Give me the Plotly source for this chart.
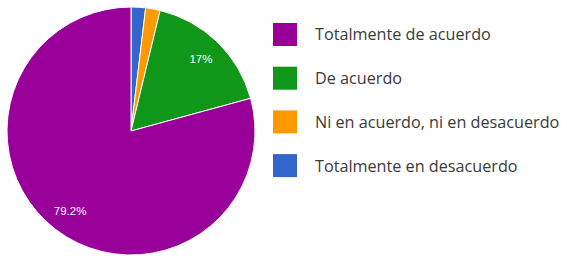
import plotly.graph_objects as go

labels = ["Totalmente de acuerdo", "De acuerdo", "Ni en acuerdo, ni en desacuerdo", "Totalmente en desacuerdo"]
counts = [42, 9, 1, 1]
pct_text = ["79.2%", "17%", "", ""]
colors = ["#990099", "#109618", "#ff9900", "#3366cc"]

W, H = 567, 267
cx, cy, r = 131, 131, 124
dom_x = [(cx - r) / W, (cx + r) / W]
dom_y = [1 - (cy + r) / H, 1 - (cy - r) / H]

# slices are drawn clockwise from 12 o'clock in reverse legend order
rl, rc, rt, rcol = labels[::-1], counts[::-1], pct_text[::-1], colors[::-1]

fig = go.Figure()
fig.add_trace(go.Pie(
    labels=rl, values=rc, sort=False, direction="clockwise", rotation=0,
    marker=dict(colors=rcol, line=dict(color="white", width=1)),
    textinfo="none", hoverinfo="label+percent", showlegend=False,
    domain=dict(x=dom_x, y=dom_y),
))
# transparent ring carrying the labels at ~0.82 r
fig.add_trace(go.Pie(
    labels=rl, values=rc, sort=False, direction="clockwise", rotation=0,
    hole=0.62, text=rt, texttemplate="%{text}", textposition="inside",
    insidetextorientation="horizontal",
    textfont=dict(color="white", size=11.5, family="Arial, Liberation Sans"),
    marker=dict(colors=["rgba(0,0,0,0)"] * 4, line=dict(width=0)),
    hoverinfo="skip", showlegend=False,
    domain=dict(x=dom_x, y=dom_y),
))

shapes, annotations = [], []
y0, step, sq = 34.5, 43.7, 23
for i, (lab, col) in enumerate(zip(labels, colors)):
    yc = y0 + i * step
    shapes.append(dict(type="rect", xref="paper", yref="paper",
                       x0=273 / W, x1=297 / W,
                       y0=1 - (yc + sq / 2) / H, y1=1 - (yc - sq / 2) / H,
                       fillcolor=col, line=dict(width=0)))
    annotations.append(dict(xref="paper", yref="paper", x=313 / W, y=1 - yc / H,
                            xanchor="left", yanchor="middle", text=lab, showarrow=False,
                            font=dict(size=16.2, color="#3a3a3a", family="Open Sans")))

fig.update_layout(width=W, height=H, margin=dict(l=0, r=0, t=0, b=0),
                  paper_bgcolor="white", plot_bgcolor="white",
                  shapes=shapes, annotations=annotations)
fig.write_html("out.html", config={"displayModeBar": False},
               post_script="document.body.style.margin='0';document.body.style.overflow='hidden';")
